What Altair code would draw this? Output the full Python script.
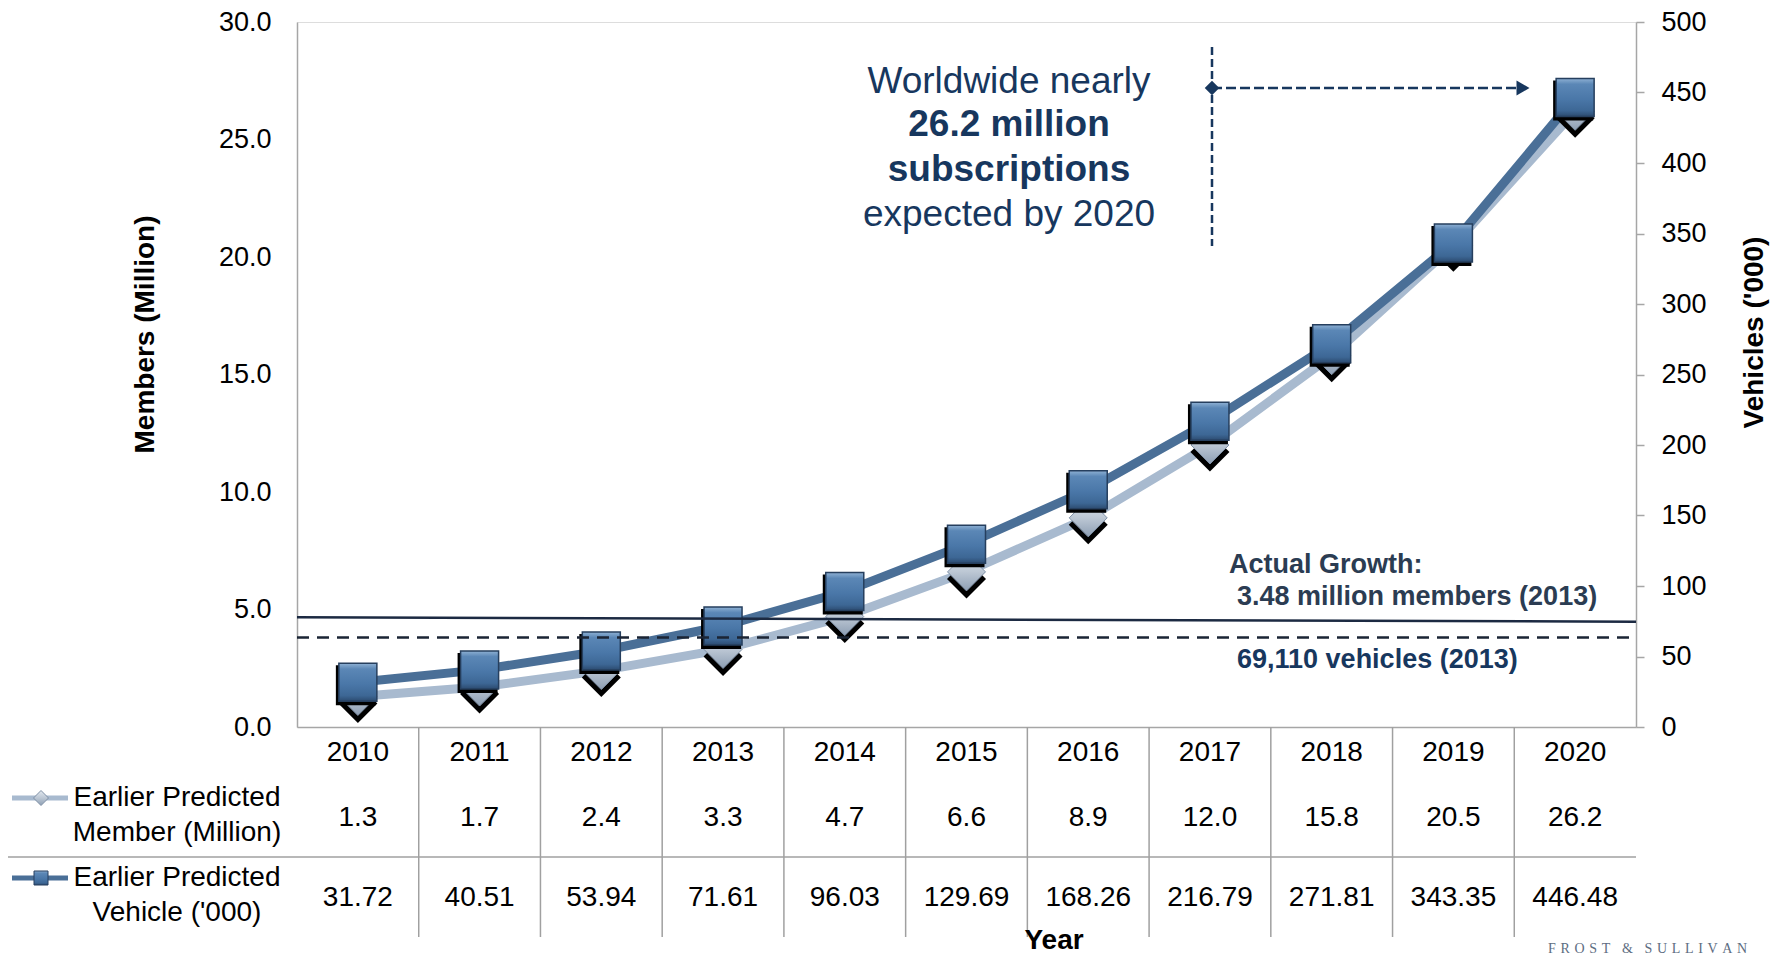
import altair as alt
import pandas as pd

# ---------------- data ----------------
years = [2010, 2011, 2012, 2013, 2014, 2015, 2016, 2017, 2018, 2019, 2020]
member_million = [1.3, 1.7, 2.4, 3.3, 4.7, 6.6, 8.9, 12.0, 15.8, 20.5, 26.2]
vehicle_thousand = [31.72, 40.51, 53.94, 71.61, 96.03, 129.69, 168.26, 216.79, 271.81, 343.35, 446.48]

actual_members_line = [4.67, 4.48]   # solid reference line (left axis), start / end
actual_vehicles_line = [3.81]        # dashed reference line (left axis)

member_row_label = ["Earlier Predicted", "Member (Million)"]
vehicle_row_label = ["Earlier Predicted", "Vehicle ('000)"]
callout_lines = ["Worldwide nearly", "26.2 million", "subscriptions", "expected by 2020"]
actual_texts = ["Actual Growth:", "3.48 million members (2013)", "69,110 vehicles (2013)"]
left_title = "Members (Million)"
right_title = "Vehicles ('000)"
x_title = "Year"
source_text = "F\u2004R\u2004O\u2004S\u2004T\u2002\u2004&\u2002\u2004S\u2004U\u2004L\u2004L\u2004I\u2004V\u2004A\u2004N"

left_ticks = [0, 5, 10, 15, 20, 25, 30]
right_ticks = [0, 50, 100, 150, 200, 250, 300, 350, 400, 450, 500]

# ---------------- style ----------------
W, H = 1339, 705
FONT = "Liberation Sans"
MEMBER_COLOR = "#a8bacf"
VEHICLE_COLOR = "#4a6f97"
NAVY = "#17375e"
SLATE = "#2b3c52"
GRID = "#a6a6a6"

df = pd.DataFrame({"year": years, "member": member_million, "vehicle": vehicle_thousand})
one = pd.DataFrame({"k": [0]})

xband = alt.Scale(paddingInner=0, paddingOuter=0)
xaxis = alt.Axis(labels=False, ticks=False, title=None, grid=False,
                 domainColor=GRID, domainWidth=1.5)


def X(**kw):
    return alt.X("year:O", scale=xband, axis=xaxis, **kw)


member_scale = alt.Scale(domain=[0, 30], nice=False)
vehicle_scale = alt.Scale(domain=[0, 500], nice=False)

left_axis = alt.Axis(orient="left", values=left_ticks, format=".1f", ticks=False, grid=False,
                     domainColor=GRID, domainWidth=1.5, labelFontSize=27, labelFont=FONT,
                     labelColor="black", labelPadding=26, labelFlush=False, labelOverlap=False,
                     title=left_title, titleFont=FONT, titleFontSize=28, titleFontWeight="bold",
                     titleColor="black", titleX=-152, titleY=312, titleAngle=-90,
                     titleAlign="center", titleBaseline="middle")
right_axis = alt.Axis(orient="right", values=right_ticks, format="d", ticks=True, tickSize=8,
                      tickColor=GRID, tickWidth=1.5, grid=False,
                      domainColor=GRID, domainWidth=1.5, labelFontSize=27, labelFont=FONT,
                      labelColor="black", labelPadding=17, labelFlush=False, labelOverlap=False,
                      title=right_title, titleFont=FONT, titleFontSize=28, titleFontWeight="bold",
                      titleColor="black", titleX=118, titleY=310, titleAngle=-90,
                      titleAlign="center", titleBaseline="middle")

sq_grad = alt.Gradient(gradient="linear", x1=0, x2=0, y1=0, y2=1, stops=[
    alt.GradientStop(color="#8fb1d4", offset=0),
    alt.GradientStop(color="#5b87b6", offset=0.15),
    alt.GradientStop(color="#4a77a8", offset=0.55),
    alt.GradientStop(color="#3d6795", offset=0.85),
    alt.GradientStop(color="#2c4b70", offset=1)])
di_grad = alt.Gradient(gradient="linear", x1=0, x2=0, y1=0, y2=1, stops=[
    alt.GradientStop(color="#e2e8ef", offset=0),
    alt.GradientStop(color="#bcc7d4", offset=0.5),
    alt.GradientStop(color="#8d9eb3", offset=1)])

# ---------------- series ----------------
member_line = alt.Chart(df).mark_line(color=MEMBER_COLOR, strokeWidth=9).encode(
    x=X(), y=alt.Y("member:Q", scale=member_scale, axis=left_axis))
vehicle_line = alt.Chart(df).mark_line(color=VEHICLE_COLOR, strokeWidth=9).encode(
    x=X(), y=alt.Y("vehicle:Q", scale=vehicle_scale, axis=right_axis))

diamond_shadow = alt.Chart(df).mark_point(shape="diamond", filled=True, color="black",
                                           size=1520, yOffset=7, opacity=1).encode(
    x=X(), y=alt.Y("member:Q", scale=member_scale, axis=None))
diamonds = alt.Chart(df).mark_point(shape="diamond", filled=True, fill=di_grad, stroke="#7f90a6",
                                     strokeWidth=1, size=1444, opacity=1).encode(
    x=X(), y=alt.Y("member:Q", scale=member_scale, axis=None))
square_shadow = alt.Chart(df).mark_point(shape="square", filled=True, color="black",
                                          size=1600, xOffset=-2, yOffset=3, opacity=1).encode(
    x=X(), y=alt.Y("vehicle:Q", scale=vehicle_scale, axis=None))
squares = alt.Chart(df).mark_point(shape="square", filled=True, fill=sq_grad, stroke="#263f5e",
                                    strokeWidth=1.5, size=1444, opacity=1).encode(
    x=X(), y=alt.Y("vehicle:Q", scale=vehicle_scale, axis=None))

# ---------------- reference lines ----------------
solid_ref = alt.Chart(pd.DataFrame({"y1": [actual_members_line[0]], "y2": [actual_members_line[1]]})
                      ).mark_rule(color="#1c2a42", strokeWidth=2.5).encode(
    x=alt.value(0), x2=alt.value(W),
    y=alt.Y("y1:Q", scale=member_scale, axis=None), y2="y2:Q")
dashed_ref = alt.Chart(pd.DataFrame({"y": actual_vehicles_line})).mark_rule(
    color="#1b2535", strokeWidth=2.5, strokeDash=[12, 8]).encode(
    x=alt.value(0), x2=alt.value(W), y=alt.Y("y:Q", scale=member_scale, axis=None))


def txt(s, x, y, size, bold=False, color="black", align="center", font=FONT):
    return alt.Chart(one).mark_text(fontSize=size, font=font, fontWeight="bold" if bold else "normal",
                                    color=color, align=align, baseline="middle").encode(
        x=alt.value(x), y=alt.value(y), text=alt.value(s))


# ---------------- annotations ----------------
callout = [
    txt(callout_lines[0], 712, 60, 37, False, NAVY),
    txt(callout_lines[1], 712, 103, 37, True, NAVY),
    txt(callout_lines[2], 712, 148, 37, True, NAVY),
    txt(callout_lines[3], 712, 193, 37, False, NAVY),
]
vdash = alt.Chart(one).mark_rule(color=NAVY, strokeWidth=2.5, strokeDash=[8, 4]).encode(
    x=alt.value(915), y=alt.value(25), y2=alt.value(224))
hdash = alt.Chart(one).mark_rule(color=NAVY, strokeWidth=2.5, strokeDash=[10, 4]).encode(
    x=alt.value(915), x2=alt.value(1222), y=alt.value(66))
arrow_start = alt.Chart(one).mark_point(shape="diamond", filled=True, color=NAVY, size=210,
                                        opacity=1).encode(x=alt.value(915), y=alt.value(66))
arrow_head = alt.Chart(one).mark_point(shape="triangle-right", filled=True, color=NAVY, size=225,
                                       opacity=1).encode(x=alt.value(1226), y=alt.value(66))

actual = [
    txt(actual_texts[0], 932, 543, 27, True, SLATE, "left"),
    txt(actual_texts[1], 940, 575, 27, True, SLATE, "left"),
    txt(actual_texts[2], 940, 638, 27, True, NAVY, "left"),
]

# ---------------- data table ----------------
year_row = alt.Chart(df).mark_text(fontSize=28, font=FONT, color="black", baseline="middle").encode(
    x=X(), y=alt.value(731), text=alt.Text("year:O"))
member_row = alt.Chart(df).mark_text(fontSize=28, font=FONT, color="black", baseline="middle").encode(
    x=X(), y=alt.value(796), text=alt.Text("member:Q", format=".1f"))
vehicle_row = alt.Chart(df).mark_text(fontSize=28, font=FONT, color="black", baseline="middle").encode(
    x=X(), y=alt.value(876), text=alt.Text("vehicle:Q", format=".2f"))
col_lines = alt.Chart(df).transform_filter("datum.year > 2010").mark_rule(
    color="#a0a0a0", strokeWidth=1.5).encode(
    x=X(bandPosition=0), y=alt.value(H), y2=alt.value(915))
row_line = alt.Chart(one).mark_rule(color="#a0a0a0", strokeWidth=1.5).encode(
    x=alt.value(-292), x2=alt.value(W), y=alt.value(835))

leg_member_line = alt.Chart(one).mark_rule(color=MEMBER_COLOR, strokeWidth=5).encode(
    x=alt.value(-285), x2=alt.value(-229), y=alt.value(776))
leg_member_sym = alt.Chart(one).mark_point(shape="diamond", filled=True, fill=di_grad, stroke="#7f90a6",
                                           strokeWidth=1, size=225, opacity=1).encode(
    x=alt.value(-256), y=alt.value(776))
leg_vehicle_line = alt.Chart(one).mark_rule(color=VEHICLE_COLOR, strokeWidth=5).encode(
    x=alt.value(-285), x2=alt.value(-229), y=alt.value(856))
leg_vehicle_sym = alt.Chart(one).mark_point(shape="square", filled=True, fill=sq_grad, stroke="#263f5e",
                                            strokeWidth=1, size=196, opacity=1).encode(
    x=alt.value(-256), y=alt.value(856))
legend_text = [
    txt(member_row_label[0], -120, 776, 28),
    txt(member_row_label[1], -120, 811, 28),
    txt(vehicle_row_label[0], -120, 856, 28),
    txt(vehicle_row_label[1], -120, 891, 28),
]

year_title = txt(x_title, 757, 919, 28, True)
source = txt(source_text, 1251, 927, 14, False, "#5d6d82", "left", "Liberation Serif")

chart = alt.layer(
    member_line, vehicle_line, diamond_shadow, diamonds, square_shadow, squares,
    solid_ref, dashed_ref,
    *callout, vdash, hdash, arrow_start, arrow_head, *actual,
    col_lines, row_line, year_row, member_row, vehicle_row,
    leg_member_line, leg_member_sym, leg_vehicle_line, leg_vehicle_sym, *legend_text,
    year_title, source,
).resolve_scale(y="independent").properties(
    width=W, height=H,
    autosize=alt.AutoSizeParams(type="none"),
    padding={"left": 289, "top": 14, "right": 142, "bottom": 231},
).configure_view(stroke=None).configure(font=FONT)

chart.save("out.html", embed_options={"renderer": "svg", "actions": False})
